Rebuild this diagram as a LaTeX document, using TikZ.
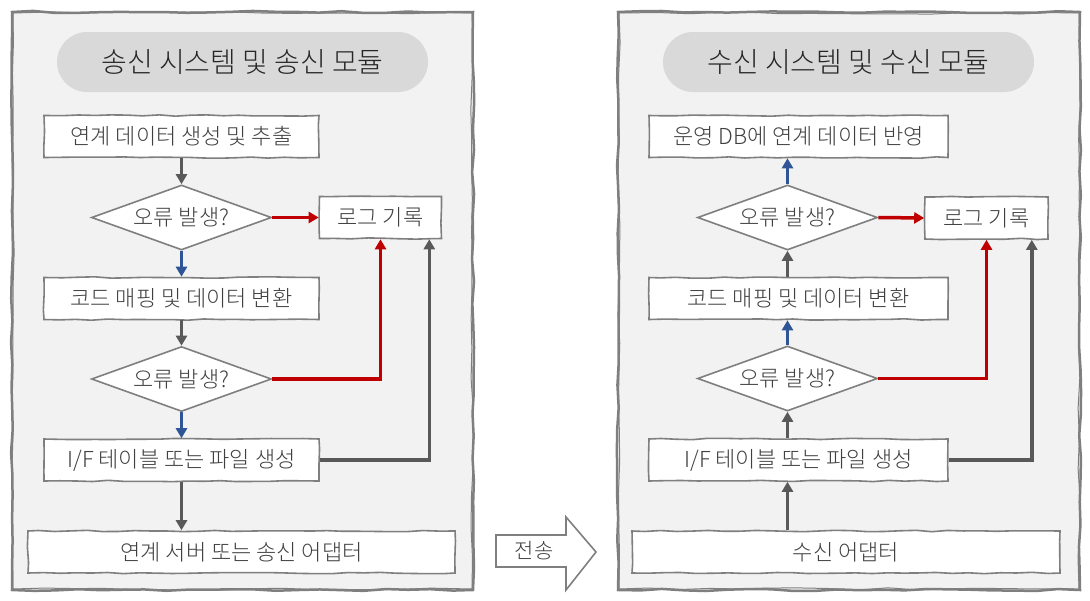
\documentclass[tikz,border=0pt]{standalone}
\usepackage{fontspec}
\IfFontExistsTF{Noto Sans CJK KR Light}{\setmainfont{Noto Sans CJK KR Light}}{\setmainfont{Noto Sans CJK KR}}
\usetikzlibrary{shapes.geometric,arrows.meta,decorations.pathmorphing}
\definecolor{panelgray}{HTML}{F2F2F2}
\definecolor{pillgray}{HTML}{D9D9D9}
\definecolor{linegray}{HTML}{7F7F7F}
\definecolor{flowgray}{HTML}{595959}
\definecolor{okblue}{HTML}{2F5597}
\definecolor{errred}{HTML}{C00000}
\definecolor{txtgray}{HTML}{404040}
\begin{document}
\begin{tikzpicture}[x = 1pt, y = -1pt,
    sketch/.style = {decorate, decoration = {random steps, segment length = 16pt, amplitude = 0.7pt}},
    panel/.style = {draw = linegray, line width = 2.5pt, fill = panelgray, decorate,
        decoration = {random steps, segment length = 22pt, amplitude = 1.1pt}},
    pill/.style = {fill = pillgray, rounded corners = 30pt, minimum height = 60pt,
        minimum width = 371pt, text = black!85, font = \fontsize{28}{32}\selectfont},
    box/.style = {draw = linegray, line width = 1.6pt, fill = white, sketch, inner sep = 0pt,
        minimum height = 42pt, text = txtgray, font = \fontsize{22}{26}\selectfont},
    check/.style = {diamond, draw = linegray, line width = 1.6pt, fill = white, aspect = 2.8,
        minimum width = 180pt, minimum height = 65pt, inner sep = 0pt,
        text = txtgray, font = \fontsize{22}{26}\selectfont},
    flow/.style = {draw = flowgray, line width = 3.5pt, -{Triangle[length = 10pt, width = 11pt]}},
    ok/.style = {flow, draw = okblue},
    err/.style = {flow, draw = errred}]
    \pgfmathsetseed{11}
    \useasboundingbox (0, 0) rectangle (1090, 600);
    % panels
    \path [panel] (12, 12) rectangle (473, 590);
    \path [panel] (618, 12) rectangle (1080, 590);
    \draw [linegray, line width = 1pt, decorate, decoration = {random steps, segment length = 30pt, amplitude = 1.2pt}] (13, 13) rectangle (472, 589);
    \draw [linegray, line width = 1pt, decorate, decoration = {random steps, segment length = 30pt, amplitude = 1.2pt}] (619, 13) rectangle (1079, 589);
    % sending side
    \node [pill] (sendtitle) at (242.5, 62) {송신 시스템 및 송신 모듈};
    \node [box, minimum width = 275pt] (ext) at (181.5, 136.5) {연계 데이터 생성 및 추출};
    \node [check] (chk1) at (181.5, 217.5) {오류 발생?};
    \node [box, minimum width = 122pt] (log1) at (380.5, 217.5) {로그 기록};
    \node [box, minimum width = 275pt] (map1) at (181.5, 298.5) {코드 매핑 및 데이터 변환};
    \node [check] (chk2) at (181.5, 379) {오류 발생?};
    \node [box, minimum width = 275pt] (if1) at (181.5, 460) {I/F 테이블 또는 파일 생성};
    \node [box, minimum width = 427pt] (snd) at (241.5, 552) {연계 서버 또는 송신 어댑터};
    \draw [flow] (ext.south) -- (chk1.north);
    \draw [err] (chk1.east) -- (log1.west);
    \draw [ok] (chk1.south) -- (map1.north);
    \draw [flow] (map1.south) -- (chk2.north);
    \draw [err] (chk2.east) -| (log1.south);
    \draw [ok] (chk2.south) -- (if1.north);
    \draw [flow] (if1.east) -| ([xshift = -13pt]log1.south east);
    \draw [flow] (if1.south) -- (if1.south |- snd.north);
    % transfer
    \draw [linegray, line width = 1.6pt, fill = white] (496, 535) -- (566, 535) -- (566, 517)
        -- (596, 552) -- (566, 590) -- (566, 567) -- (496, 567) -- cycle;
    \node [text = txtgray, font = \fontsize{21}{24}\selectfont] (send) at (534, 551) {전송};
    % receiving side
    \node [pill] (rcvtitle) at (848.5, 62) {수신 시스템 및 수신 모듈};
    \node [box, minimum width = 299pt] (db) at (798.5, 136.5) {운영 DB에 연계 데이터 반영};
    \node [check] (chk3) at (787.5, 217.5) {오류 발생?};
    \node [box, minimum width = 123pt] (log2) at (986.5, 218) {로그 기록};
    \node [box, minimum width = 299pt] (map2) at (798.5, 298.5) {코드 매핑 및 데이터 변환};
    \node [check] (chk4) at (787.5, 378.5) {오류 발생?};
    \node [box, minimum width = 299pt] (if2) at (798.5, 460) {I/F 테이블 또는 파일 생성};
    \node [box, minimum width = 428pt] (rcv) at (846, 552) {수신 어댑터};
    \draw [ok] (chk3.north) -- (chk3.north |- db.south);
    \draw [err] (chk3.east) -- (log2.west);
    \draw [flow] (chk3.south |- map2.north) -- (chk3.south);
    \draw [ok] (chk4.north) -- (chk4.north |- map2.south);
    \draw [err] (chk4.east) -| (log2.south);
    \draw [flow] (chk4.south |- if2.north) -- (chk4.south);
    \draw [flow] (if2.east) -| ([xshift = -17pt]log2.south east);
    \draw [flow] (rcv.north -| chk4) -- (if2.south -| chk4);
\end{tikzpicture}
\end{document}
